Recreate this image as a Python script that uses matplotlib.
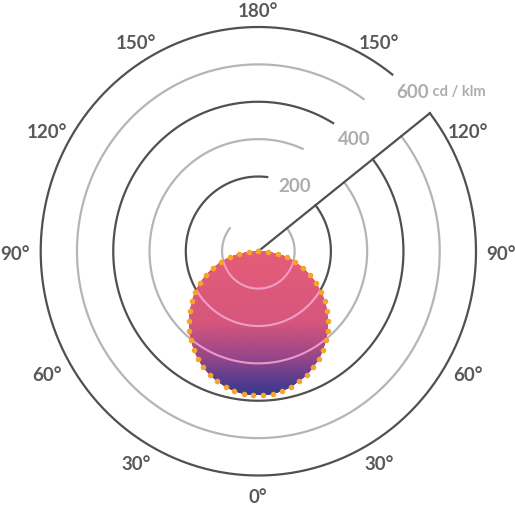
import numpy as np
import matplotlib.pyplot as plt
from matplotlib.colors import LinearSegmentedColormap

plt.rcParams['font.family'] = ['Lato', 'DejaVu Sans']

# luminous intensity distribution (cd/klm)
gamma = np.arange(-90, 91, 4)
intensity = [0, 27, 54, 80, 106, 132, 157, 181, 205, 226, 247, 267, 286, 303, 319, 333,
             346, 357, 366, 374, 379, 383, 385,
             385, 383, 379, 374, 366, 357, 346, 333, 319, 303, 286, 267, 247, 226,
             205, 181, 157, 132, 106, 80, 54, 27, 0]

rings = [100, 200, 300, 400, 500, 600]
ring_labels = ['', '200', '', '400', '', '600']
ring_gap_end = [232, 173, 156, 149, 144.5, 142]   # where each ring stops (deg)
cursor_angle = 128

angle_ticks = [0, 30, 60, 90, 120, 150, 180, 210, 240, 270, 300, 330]
angle_labels = ['0°', '30°', '60°', '90°', '120°', '150°', '180°',
                '150°', '120°', '90°', '60°', '30°']

dark = '#505050'
light = '#b5b5b5'

fig = plt.figure(figsize=(5.15, 5.08), dpi=100)
ax = fig.add_axes([40.7 / 515, (508 - 475.5) / 508, 435.3 / 515, 448.5 / 508],
                  projection='polar')
ax.set_aspect('auto')
ax.set_theta_zero_location('S')
ax.set_theta_direction(1)
ax.set_ylim(0, 600)
ax.grid(False)
ax.set_xticks([])
ax.set_yticks([])
ax.spines['polar'].set_visible(False)

# rings with a gap for the labels
for i, r in enumerate(rings):
    col = dark if i % 2 else light
    th = np.deg2rad(np.linspace(ring_gap_end[i] - 360, cursor_angle, 500))
    ax.plot(th, np.full_like(th, r), color=col, lw=1.6, zorder=1, clip_on=False)
    if ring_labels[i]:
        mid = np.deg2rad((cursor_angle + ring_gap_end[i]) / 2)
        t = ax.text(mid, r, ring_labels[i], ha='center', va='center',
                    color='#adadad', fontsize=13.5, fontweight='bold')
        if r == 600:
            ax.annotate(' cd / klm', xy=(1, 0.1), xycoords=t, ha='left', va='bottom',
                        color='#adadad', fontsize=10.5, fontweight='bold')

ax.plot([np.deg2rad(cursor_angle)] * 2, [0, 600], color=dark, lw=1.6, zorder=1,
        clip_on=False)

# distribution blob with vertical gradient
th_b = np.deg2rad(gamma)
poly = ax.fill(th_b, intensity, facecolor='none', edgecolor='none', zorder=2)[0]
cmap = LinearSegmentedColormap.from_list(
    'ldc', [(0, '#e65c78'), (0.5, '#d5567c'), (0.74, '#98468a'),
            (0.92, '#513c8d'), (1, '#3a3a8c')])
TT, RR = np.meshgrid(np.deg2rad(np.linspace(-90, 90, 181)), np.linspace(0, 420, 120))
mesh = ax.pcolormesh(TT, RR, RR * np.cos(TT), cmap=cmap, vmin=0, vmax=max(intensity),
                     shading='gouraud', zorder=2)
mesh.set_clip_path(poly)

for r in rings:
    th = np.deg2rad(np.linspace(-180, 180, 500))
    ln, = ax.plot(th, np.full_like(th, r), color='#f9a8d4', lw=1.5, alpha=0.85, zorder=3)
    ln.set_clip_path(poly)

ax.plot(th_b, intensity, ls='none', marker='o', ms=3.0, color='#f5a62a',
        zorder=4, clip_on=False)

# angle labels
for a, lab in zip(angle_ticks, angle_labels):
    rad = np.deg2rad(a)
    dx = 243 * np.sin(rad) - 0.8
    dy = -243 * np.cos(rad) - 2.8
    ax.annotate(lab, xy=(0, 0), xytext=(dx, dy), textcoords='offset pixels',
                ha='center', va='center', color='#595959', fontsize=13.5,
                fontweight='bold', annotation_clip=False)

fig.savefig('out.png', dpi=100)
